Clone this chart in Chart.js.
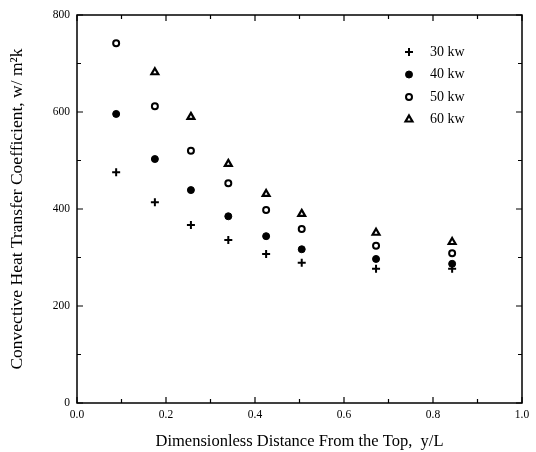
<!DOCTYPE html>
<html>
<head>
<meta charset="utf-8">
<script src="https://cdn.jsdelivr.net/npm/chart.js@4.4.0/dist/chart.umd.min.js"></script>
<style>
  html, body { margin: 0; padding: 0; background: #fff; }
  #wrap { width: 536px; height: 452px; }
</style>
</head>
<body>
<div id="wrap"><canvas id="chart" width="536" height="452"></canvas></div>
<script>
// data
const positions = [0.088, 0.175, 0.256, 0.34, 0.425, 0.505, 0.672, 0.843];
const kw30 = [476, 414, 367, 336, 307, 289, 277, 277];
const kw40 = [596, 503, 439, 385, 344, 317, 297, 287];
const kw50 = [742, 612, 520, 453, 398, 359, 324, 309];
const kw60 = [null, 682, 590, 493, 431, 390, 351, 332];
const seriesLabels = ['30 kw', '40 kw', '50 kw', '60 kw'];
const xTickLabels = ['0.0', '0.2', '0.4', '0.6', '0.8', '1.0'];
const yTickLabels = ['0', '200', '400', '600', '800'];

const serif = "'Liberation Serif', 'DejaVu Serif', serif";

function toPoints(vals) {
  return positions.map((x, i) => ({ x: x, y: vals[i] })).filter(p => p.y !== null);
}

const styles = [
  { pointStyle: 'cross', radius: 4, borderWidth: 2, backgroundColor: '#000' },
  { pointStyle: 'circle', radius: 3.5, borderWidth: 1, backgroundColor: '#000' },
  { pointStyle: 'circle', radius: 3, borderWidth: 2, backgroundColor: '#fff' },
  { pointStyle: 'triangle', radius: 4, borderWidth: 2.2, backgroundColor: '#fff' }
];
const allVals = [kw30, kw40, kw50, kw60];

const datasets = allVals.map((vals, i) => ({
  label: seriesLabels[i],
  data: toPoints(vals),
  showLine: false,
  pointStyle: styles[i].pointStyle,
  pointRadius: styles[i].radius,
  pointHoverRadius: styles[i].radius,
  pointBorderWidth: styles[i].borderWidth,
  pointBorderColor: '#000',
  pointBackgroundColor: styles[i].backgroundColor,
  borderColor: '#000',
  backgroundColor: styles[i].backgroundColor
}));

// frame, inward ticks and the in-plot legend
const framePlugin = {
  id: 'frame',
  afterDraw(chart) {
    const ctx = chart.ctx;
    const a = chart.chartArea;
    const xs = chart.scales.x;
    const ys = chart.scales.y;
    ctx.save();
    ctx.strokeStyle = '#000';
    ctx.lineWidth = 1.5;
    ctx.strokeRect(a.left, a.top, a.right - a.left, a.bottom - a.top);

    ctx.lineWidth = 1.2;
    for (let i = 0; i <= 10; i++) {
      const px = xs.getPixelForValue(i / 10);
      const len = i % 2 === 0 ? 6 : 4;
      ctx.beginPath();
      ctx.moveTo(px, a.bottom); ctx.lineTo(px, a.bottom - len);
      ctx.moveTo(px, a.top); ctx.lineTo(px, a.top + len);
      ctx.stroke();
    }
    for (let v = 0; v <= 800; v += 100) {
      const py = ys.getPixelForValue(v);
      const len = v % 200 === 0 ? 6 : 4;
      ctx.beginPath();
      ctx.moveTo(a.left, py); ctx.lineTo(a.left + len, py);
      ctx.moveTo(a.right, py); ctx.lineTo(a.right - len, py);
      ctx.stroke();
    }

    // legend
    ctx.font = '14px ' + serif;
    ctx.fillStyle = '#000';
    ctx.textBaseline = 'middle';
    ctx.textAlign = 'left';
    const mx = a.right - 113;
    const tx = a.right - 92;
    chart.data.datasets.forEach((ds, i) => {
      const y = a.top + 37 + i * 22.5;
      const opts = {
        pointStyle: ds.pointStyle,
        radius: ds.pointRadius,
        borderWidth: ds.pointBorderWidth,
        rotation: 0
      };
      ctx.save();
      ctx.strokeStyle = '#000';
      ctx.fillStyle = ds.pointBackgroundColor;
      ctx.lineWidth = ds.pointBorderWidth;
      if (Chart.helpers && Chart.helpers.drawPoint) {
        Chart.helpers.drawPoint(ctx, opts, mx, y);
      }
      ctx.restore();
      ctx.fillText(ds.label, tx, y);
    });
    ctx.restore();
  }
};

const ctx = document.getElementById('chart').getContext('2d');
const chart = new Chart(ctx, {
  type: 'scatter',
  data: { datasets: datasets },
  options: {
    responsive: false,
    animation: false,
    devicePixelRatio: 1,
    layout: { padding: { top: 15, right: 14, left: 0, bottom: 0 } },
    scales: {
      x: {
        type: 'linear',
        min: 0,
        max: 1,
        afterFit(scale) { scale.height = 49; },
        afterBuildTicks(scale) {
          scale.ticks = xTickLabels.map(t => ({ value: parseFloat(t) }));
        },
        grid: { display: false, drawTicks: false },
        border: { display: false },
        ticks: {
          padding: 5,
          color: '#000',
          font: { family: serif, size: 11.5 },
          callback: (v, i) => xTickLabels[i]
        },
        title: {
          display: true,
          text: 'Dimensionless Distance From the Top,  y/L',
          color: '#000',
          font: { family: serif, size: 16.5 },
          padding: { top: 1, bottom: 0 }
        }
      },
      y: {
        type: 'linear',
        min: 0,
        max: 800,
        afterFit(scale) { scale.width = 77; },
        afterBuildTicks(scale) {
          scale.ticks = yTickLabels.map(t => ({ value: parseFloat(t) }));
        },
        grid: { display: false, drawTicks: false },
        border: { display: false },
        ticks: {
          padding: 7,
          color: '#000',
          font: { family: serif, size: 11.5 },
          callback: (v, i) => yTickLabels[i]
        },
        title: {
          display: true,
          text: 'Convective Heat Transfer Coefficient, w/ m\u00b2k',
          color: '#000',
          font: { family: serif, size: 17.5 },
          padding: { top: 7, bottom: 0 }
        }
      }
    },
    plugins: {
      legend: { display: false },
      tooltip: { enabled: false }
    }
  },
  plugins: [framePlugin]
});
</script>
</body>
</html>
